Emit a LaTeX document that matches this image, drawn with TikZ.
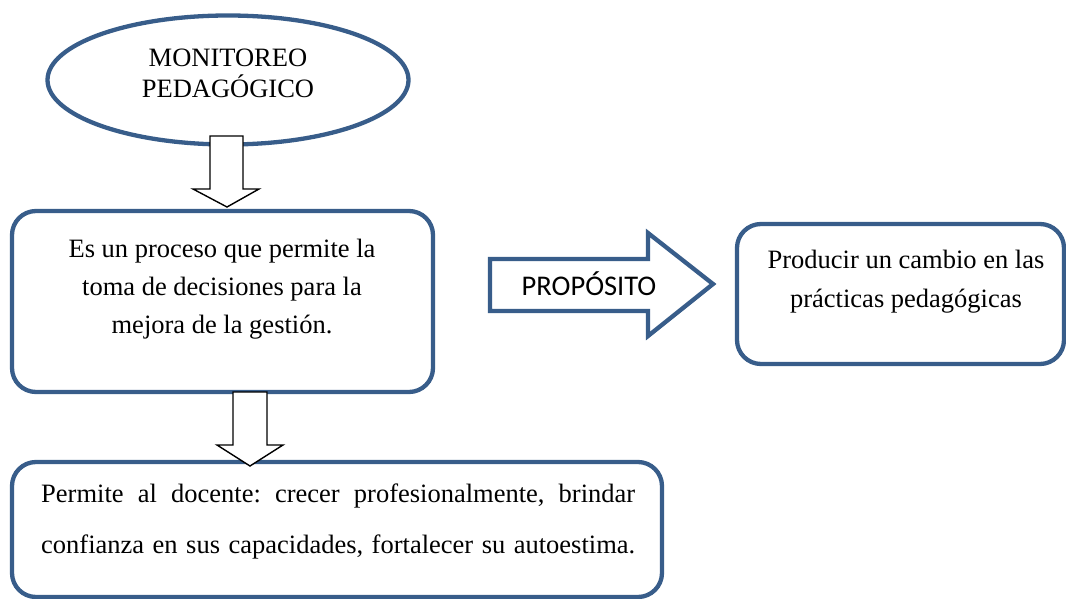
\documentclass[tikz,border=0pt]{standalone}
\usepackage{fontspec}
\setmainfont{Liberation Serif}
\newfontfamily\calib{Carlito}
\usetikzlibrary{shapes.geometric}
\definecolor{wblue}{RGB}{56,93,138}
\frenchspacing
\begin{document}
\begin{tikzpicture}[x=1pt,y=-1pt,
  bluebox/.style={draw=wblue, line width=4.3pt, rounded corners=24pt, fill=white},
  blockarrow/.style={draw=black, line width=1.4pt, fill=white, line join=miter},
  txt/.style={inner sep=0pt, anchor=base, font=\fontsize{26.5}{32}\selectfont}]
\useasboundingbox (0,0) rectangle (1066,599);
% ellipse
\node[ellipse, draw=wblue, line width=4.3pt, minimum width=361pt, minimum height=129pt, inner sep=0pt] (mon) at (228,80) {};
\node[txt] (mon1) at (228,67) {MONITOREO};
\node[txt] (mon2) at (228,98) {PEDAGÓGICO};
% box 1
\draw[bluebox] (12,211) rectangle (433,392);
\node[txt] (b1a) at (222,257) {Es un proceso que permite la};
\node[txt] (b1b) at (222,295) {toma de decisiones para la};
\node[txt] (b1c) at (222,333) {mejora de la gestión.};
% box 3
\draw[bluebox] (12,462) rectangle (662,597);
\node[txt, anchor=base west] (b3a) at (41,502) {\makebox[594pt][s]{Permite al docente: crecer profesionalmente, brindar}};
\node[txt, anchor=base west] (b3b) at (41,553) {\makebox[594pt][s]{confianza en sus capacidades, fortalecer su autoestima.}};
% right box
\draw[bluebox] (737,224) rectangle (1064,364);
\node[txt] (r1) at (906,268) {Producir un cambio en las};
\node[txt] (r2) at (906,307) {prácticas pedagógicas};
% down arrows
\draw[blockarrow] (210,136) -- (243,136) -- (243,189) -- (259,189) -- (227,207) -- (193,189) -- (210,189) -- cycle;
\draw[blockarrow] (233,392) -- (267,392) -- (267,445) -- (283,445) -- (250,466) -- (217,445) -- (233,445) -- cycle;
% proposito arrow
\draw[draw=wblue, line width=4.3pt, fill=white, line join=miter] (490,259) -- (648,259) -- (648,233) -- (713,284) -- (648,336) -- (648,311) -- (490,311) -- cycle;
\node[inner sep=0pt, anchor=base, font=\calib\fontsize{28.5}{32}\selectfont] (prop) at (589,295) {PROPÓSITO};
\end{tikzpicture}
\end{document}
